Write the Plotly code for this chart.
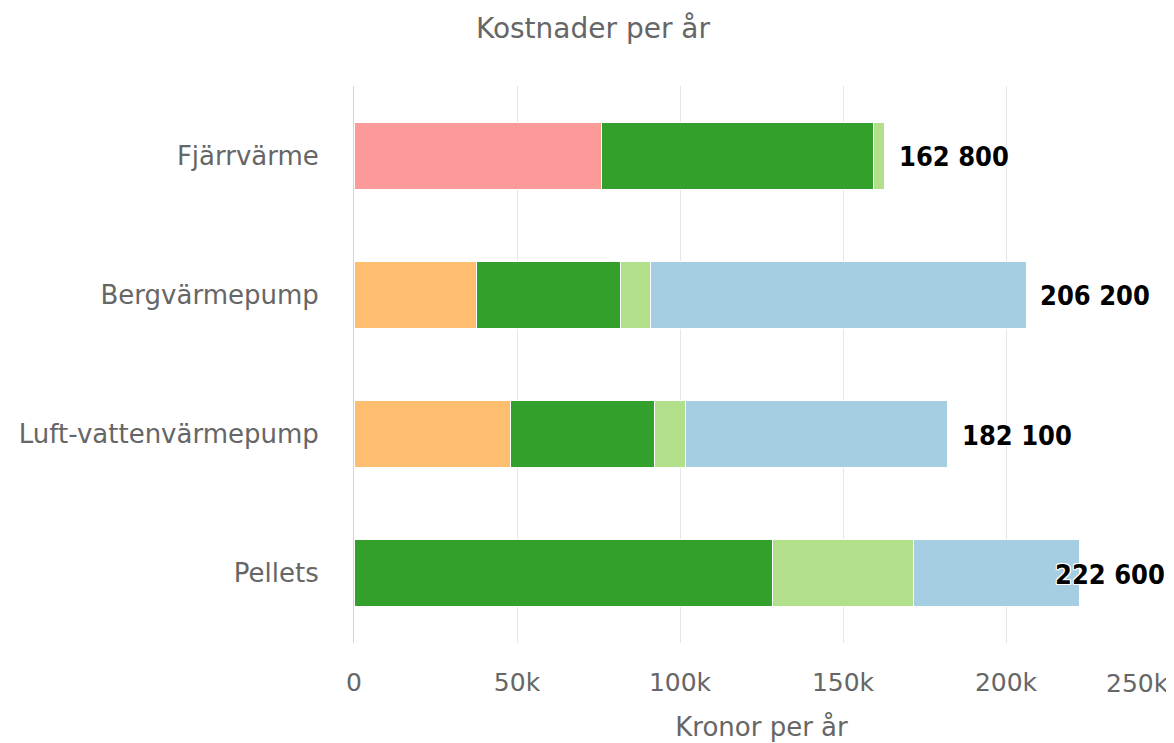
import plotly.graph_objects as go

categories = ["Fjärrvärme", "Bergvärmepump", "Luft-vattenvärmepump", "Pellets"]
series_names = ["Fjärrvärmeavgift", "El", "Kapitalkostnad", "Underhåll", "Investering"]
series_values = [
    [76000, 0, 0, 0],
    [0, 37700, 48100, 0],
    [83500, 44100, 44100, 128400],
    [3300, 9200, 9400, 43300],
    [0, 115200, 80500, 50900],
]
series_colors = ["#fb9a99", "#fdbf6f", "#33a02c", "#b2df8a", "#a6cee3"]
tick_vals = [0, 50000, 100000, 150000, 200000, 250000]
tick_text = ["0", "50k", "100k", "150k", "200k", "250k"]
x_max = 250000

totals = [sum(s[i] for s in series_values) for i in range(len(categories))]

FONT = "DejaVu Sans"
GRAY = "#666666"

fig = go.Figure()
for name, vals, col in zip(series_names, series_values, series_colors):
    fig.add_trace(go.Bar(
        y=categories, x=vals, name=name, orientation="h",
        marker=dict(color=col, line=dict(color="white", width=1)),
        hoverinfo="x+name",
    ))

outline = "1px 0 0 #fff, -1px 0 0 #fff, 0 1px 0 #fff, 0 -1px 0 #fff, 1px 1px 0 #fff, -1px -1px 0 #fff, 1px -1px 0 #fff, -1px 1px 0 #fff"
annotations = []
for cat, tot in zip(categories, totals):
    txt = f"{tot:,}".replace(",", " ")
    overflow = tot > 0.85 * x_max
    annotations.append(dict(
        x=x_max if overflow else tot, y=cat, xref="x", yref="y",
        text=txt, showarrow=False,
        xanchor="right" if overflow else "left",
        xshift=-2 if overflow else 12, yshift=-1,
        font=dict(family="DejaVu Sans Condensed, DejaVu Sans", size=27, color="#000000",
                  weight="bold", shadow=outline),
    ))

# last tick label shifted inward like the reference
annotations.append(dict(
    x=tick_vals[-1], y=0, xref="x", yref="paper", text=tick_text[-1],
    showarrow=False, xanchor="right", yanchor="top", yshift=-24, xshift=2,
    font=dict(family=FONT, size=25, color=GRAY),
))

# page body has an 8px margin, so the figure is sized to fit the window
fig.update_layout(
    width=1166, height=735, autosize=False,
    barmode="stack", bargap=0.52, showlegend=False,
    plot_bgcolor="white", paper_bgcolor="white",
    margin=dict(l=346, r=5, t=78, b=100, autoexpand=False),
    title=dict(text="Kostnader per år", x=0.5017, xref="container", xanchor="center",
               y=0.9728, yref="container", yanchor="middle", automargin=False,
               font=dict(family=FONT, size=28, color=GRAY)),
    xaxis=dict(
        range=[0, x_max], tickvals=tick_vals, automargin=False,
        ticktext=tick_text[:-1] + [""],
        showgrid=True, gridcolor="#e6e6e6", gridwidth=1, zeroline=False,
        showline=False, ticks="", ticklabelstandoff=22,
        tickfont=dict(family=FONT, size=25, color=GRAY),
        title=dict(text="Kronor per år", standoff=21,
                   font=dict(family=FONT, size=26, color=GRAY)),
    ),
    yaxis=dict(
        categoryorder="array", categoryarray=categories[::-1], automargin=False,
        showline=True, linecolor="#ccd6eb", linewidth=1,
        showgrid=False, ticks="", ticklabelstandoff=29,
        tickfont=dict(family=FONT, size=26, color=GRAY),
    ),
    annotations=annotations,
)

fig.write_html("out.html")
